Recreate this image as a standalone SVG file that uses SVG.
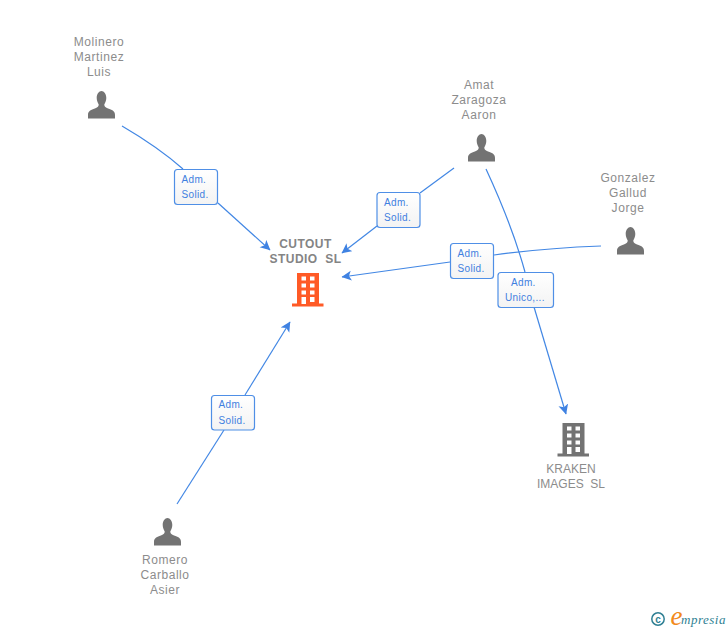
<svg xmlns="http://www.w3.org/2000/svg" width="728" height="630" viewBox="0 0 728 630">
<style>
text{font-family:"Liberation Sans",Arial,sans-serif}
.n{font-size:12px;fill:#8c8c8c;text-anchor:middle;letter-spacing:.55px}
.c{font-size:12px;fill:#848484;text-anchor:middle;font-weight:bold;letter-spacing:.45px}
.k{font-size:12px;fill:#8c8c8c;text-anchor:middle}
.l{font-size:10px;fill:#3f7fe0;letter-spacing:.35px}
.b{fill:url(#g);stroke:#4f8fe6;stroke-width:1.2}
.e{fill:none;stroke:#4287e4;stroke-width:1.2}
.p{fill:#737373}
</style>
<defs>
<linearGradient id="g" x1="0" y1="0" x2="0" y2="1"><stop offset="0" stop-color="#fff"/><stop offset="1" stop-color="#f3f3f3"/></linearGradient>
<marker id="a" markerUnits="userSpaceOnUse" markerWidth="12" markerHeight="12" refX="9.500" refY="5" orient="auto"><path d="M0 0L10 5L0 10L2.500 5Z" fill="#3f82e2"/></marker>
<path id="person" d="M-4.800 -7C-4.800 -11 -2.500 -14 0 -14C2.500 -14 4.800 -11 4.800 -7C4.800 -4 3.500 -2 2.800 -.5C2.800 1.500 4 2.500 8 4C11.500 5.300 13.500 6.500 13.500 10V13.500H-13.500V10C-13.500 6.500 -11.500 5.300 -8 4C-4 2.500 -2.800 1.500 -2.800 -.5C-3.500 -2 -4.800 -4 -4.800 -7Z"/>
<path id="bld" fill-rule="evenodd" d="M5 0H27V30.500H31.500V33.500H0V30.500H5ZM9.500 3.500V7.500H14V3.500ZM18 3.500V7.500H22.500V3.500ZM9.500 10.500V14.500H14V10.500ZM18 10.500V14.500H22.500V10.500ZM9.500 17.500V21.500H14V17.500ZM18 17.500V21.500H22.500V17.500ZM9.500 24V31H14V24ZM18 24V29H22.500V24Z"/>
</defs>
<g id="connectors">
<path class="e" d="M122 126Q158 147 183 169"/>
<path class="e" marker-end="url(#a)" d="M218 203L270 250"/>
<path class="e" d="M454 168L420 193"/>
<path class="e" marker-end="url(#a)" d="M377 226L342 253"/>
<path class="e" d="M601 246Q545 248 494 255"/>
<path class="e" marker-end="url(#a)" d="M450 262L342 277"/>
<path class="e" d="M486 169Q512 225 525 272"/>
<path class="e" marker-end="url(#a)" d="M534 307L566 414"/>
<path class="e" d="M177 504L224 430"/>
<path class="e" marker-end="url(#a)" d="M245 395L290 322"/>
</g>
<g id="edge-label-1"><rect class="b" x="174.500" y="169.500" width="43" height="35" rx="3"/><text class="l" x="181.500" y="183">Adm.</text><text class="l" x="181.500" y="198">Solid.</text></g>
<g id="edge-label-2"><rect class="b" x="377" y="192.500" width="43" height="35" rx="3"/><text class="l" x="384" y="206">Adm.</text><text class="l" x="384" y="221">Solid.</text></g>
<g id="edge-label-3"><rect class="b" x="450.500" y="243.500" width="43" height="35" rx="3"/><text class="l" x="457.500" y="257">Adm.</text><text class="l" x="457.500" y="272">Solid.</text></g>
<g id="edge-label-4"><rect class="b" x="498" y="272.500" width="55.500" height="35" rx="3"/><text class="l" x="511" y="286">Adm.</text><text class="l" x="505" y="301">Unico,...</text></g>
<g id="edge-label-5"><rect class="b" x="211.500" y="395.500" width="43" height="34.500" rx="3"/><text class="l" x="218.500" y="408">Adm.</text><text class="l" x="218.500" y="423.500">Solid.</text></g>
<g id="node-molinero"><text class="n" x="99" y="46">Molinero</text><text class="n" x="99" y="61">Martinez</text><text class="n" x="99" y="76">Luis</text><use href="#person" class="p" x="101.500" y="105"/></g>
<g id="node-amat"><text class="n" x="479" y="89">Amat</text><text class="n" x="479" y="104">Zaragoza</text><text class="n" x="479" y="119">Aaron</text><use href="#person" class="p" x="481.500" y="148"/></g>
<g id="node-gonzalez"><text class="n" x="628" y="182">Gonzalez</text><text class="n" x="628" y="197">Gallud</text><text class="n" x="628" y="212">Jorge</text><use href="#person" class="p" x="630.500" y="241"/></g>
<g id="node-romero"><text class="n" x="165" y="564">Romero</text><text class="n" x="165" y="579">Carballo</text><text class="n" x="165" y="594">Asier</text><use href="#person" class="p" x="167.500" y="532"/></g>
<g id="node-cutout"><text class="c" x="305.500" y="248">CUTOUT</text><text class="c" x="305.500" y="263" xml:space="preserve">STUDIO  SL</text><use href="#bld" fill="#ff5a26" x="292" y="273"/></g>
<g id="node-kraken"><use href="#bld" fill="#737373" x="557.500" y="423"/><text class="k" x="571" y="473">KRAKEN</text><text class="k" x="571" y="488" xml:space="preserve">IMAGES  SL</text></g>
<g id="logo"><circle cx="658" cy="619" r="6.200" fill="none" stroke="#2f7f93" stroke-width="1.500"/><text x="658" y="622.500" font-size="10" font-weight="bold" fill="#2f7f93" text-anchor="middle">c</text><text x="670.500" y="625" font-size="27" fill="#f28a1c" font-style="italic" style="font-family:'Liberation Serif',serif">e</text><text x="681" y="624" font-size="13" fill="#2f7f93" font-style="italic" letter-spacing=".5" style="font-family:'Liberation Serif',serif">mpresia</text></g>
</svg>
